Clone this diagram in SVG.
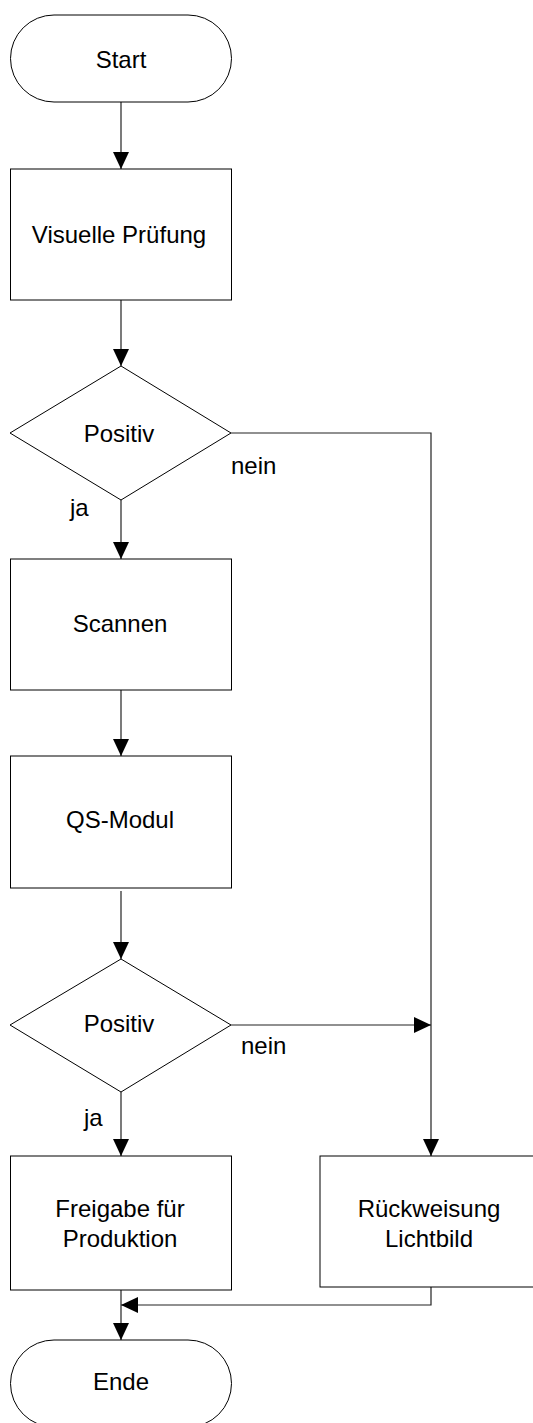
<svg xmlns="http://www.w3.org/2000/svg" width="533" height="1423" viewBox="0 0 533 1423">
<style>
.shape{fill:#fff;stroke:#000;stroke-width:1}
.conn{fill:none;stroke:#222;stroke-width:1.2}
text{font-family:"Liberation Sans",Arial,sans-serif;font-size:24px;fill:#000}
.c{text-anchor:middle}
</style>
<defs>
<marker id="arr" markerUnits="userSpaceOnUse" markerWidth="17" markerHeight="16" refX="17" refY="8" orient="auto">
<path d="M0,0 L17,8 L0,16 Z" fill="#000"/>
</marker>
</defs>
<rect width="533" height="1423" fill="#fff"/>
<g id="connectors">
<path class="conn" d="M121 102 V169" marker-end="url(#arr)"/>
<path class="conn" d="M121 300 V366" marker-end="url(#arr)"/>
<path class="conn" d="M121 500 V559" marker-end="url(#arr)"/>
<path class="conn" d="M121 690 V756" marker-end="url(#arr)"/>
<path class="conn" d="M121 891 V959" marker-end="url(#arr)"/>
<path class="conn" d="M121 1092 V1156" marker-end="url(#arr)"/>
<path class="conn" d="M231 433 H431 V1156" marker-end="url(#arr)"/>
<path class="conn" d="M231 1025 H431" marker-end="url(#arr)"/>
<path class="conn" d="M431 1287 V1305 H121" marker-end="url(#arr)"/>
<path class="conn" d="M121 1290 V1340" marker-end="url(#arr)"/>
<text x="231" y="474">nein</text>
<text x="70" y="516">ja</text>
<text x="241" y="1054">nein</text>
<text x="84" y="1126">ja</text>
</g>
<g id="start">
<rect class="shape" x="10.5" y="15" width="221" height="87" rx="43.5" ry="43.5"/>
<text class="c" x="121" y="68">Start</text>
</g>
<g id="visuelle">
<rect class="shape" x="10.5" y="169" width="221" height="131"/>
<text class="c" x="119" y="243">Visuelle Prüfung</text>
</g>
<g id="positiv1">
<polygon class="shape" points="121,366 231,433 121,500 10,433"/>
<text class="c" x="119" y="442">Positiv</text>
</g>
<g id="scannen">
<rect class="shape" x="10.5" y="559" width="221" height="131"/>
<text class="c" x="120" y="632">Scannen</text>
</g>
<g id="qsmodul">
<rect class="shape" x="10.5" y="756" width="221" height="132"/>
<text class="c" x="120" y="828">QS-Modul</text>
</g>
<g id="positiv2">
<polygon class="shape" points="121,959 231,1025 121,1092 10,1025"/>
<text class="c" x="119" y="1032">Positiv</text>
</g>
<g id="freigabe">
<rect class="shape" x="10.5" y="1156" width="221" height="134"/>
<text class="c" x="120" y="1217">Freigabe für</text>
<text class="c" x="120" y="1247">Produktion</text>
</g>
<g id="rueckweisung">
<rect class="shape" x="320" y="1156" width="222" height="131"/>
<text class="c" x="429" y="1217">Rückweisung</text>
<text class="c" x="429" y="1247">Lichtbild</text>
</g>
<g id="ende">
<rect class="shape" x="10.5" y="1340" width="221" height="87" rx="43.5" ry="43.5"/>
<text class="c" x="121" y="1390">Ende</text>
</g>
</svg>
